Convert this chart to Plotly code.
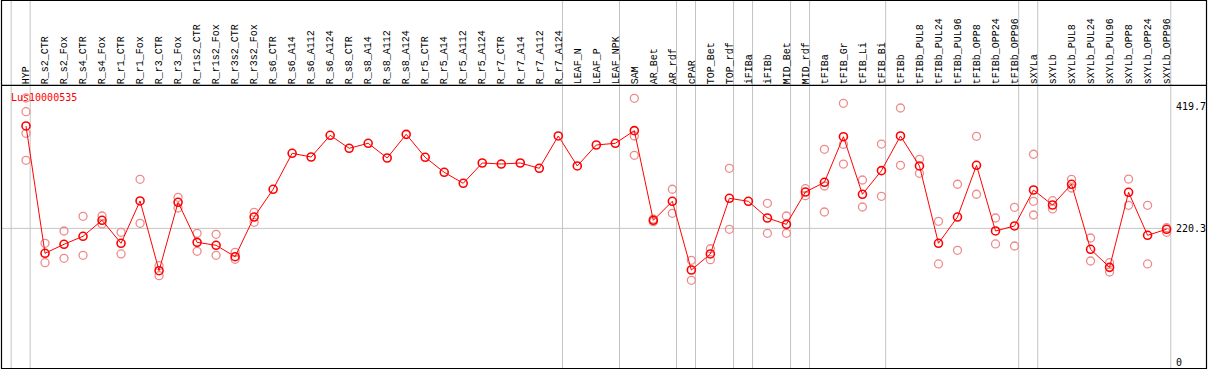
import plotly.graph_objects as go

title_text = "Lus10000535"

categories = [
    "HYP", "R_s2_CTR", "R_s2_Fox", "R_s4_CTR", "R_s4_Fox", "R_r1_CTR", "R_r1_Fox",
    "R_r3_CTR", "R_r3_Fox", "R_r1s2_CTR", "R_r1s2_Fox", "R_r3s2_CTR", "R_r3s2_Fox",
    "R_s6_CTR", "R_s6_A14", "R_s6_A112", "R_s6_A124", "R_s8_CTR", "R_s8_A14",
    "R_s8_A112", "R_s8_A124", "R_r5_CTR", "R_r5_A14", "R_r5_A112", "R_r5_A124",
    "R_r7_CTR", "R_r7_A14", "R_r7_A112", "R_r7_A124", "LEAF_N", "LEAF_P", "LEAF_NPK",
    "SAM", "AR_Bet", "AR_rdf", "cPAR", "TOP_Bet", "TOP_rdf", "iFIBa", "iFIBb",
    "MID_Bet", "MID_rdf", "tFIBa", "tFIB_Gr", "tFIB_Li", "tFIB_Bi", "tFIBb",
    "tFIBb_PUL8", "tFIBb_PUL24", "tFIBb_PUL96", "tFIBb_OPP8", "tFIBb_OPP24", "tFIBb_OPP96",
    "sXYLa", "sXYLb", "sXYLb_PUL8", "sXYLb_PUL24", "sXYLb_PUL96", "sXYLb_OPP8",
    "sXYLb_OPP24", "sXYLb_OPP96",
]

mean_values = [
    388.2, 179.4, 194.2, 207.3, 233.5, 195.8, 265.2, 150.9, 263.0, 197.4, 192.5, 173.8, 238.9,
    284.4, 343.4, 337.3, 372.9, 351.6, 359.8, 335.7, 374.5, 336.8, 312.2, 294.2, 327.5,
    325.8, 327.5, 318.8, 371.8, 322.6, 357.0, 359.8,
    380.5, 233.5, 264.7, 152.0, 178.3, 269.6, 264.7, 237.3, 226.9, 279.9,
    295.8, 370.6, 276.2, 314.9, 371.8, 322.6, 195.8, 238.9, 323.7, 216.0, 224.2,
    283.2, 258.6, 292.6, 186.0, 156.4, 279.4, 208.9, 218.8,
]

N = None
rep_a = [
    434.1, 195.8, 216.0, 240.1, 240.6, 213.8, 300.7, 159.1, 271.2, 212.2, 210.6, 181.0, 246.6,
    N, N, N, N, N, N, N, N, N, N, N, N, N, N, N, N, N, N, N,
    433.6, 235.5, 284.4, 167.9, 186.9, 318.8, N, 261.4, 240.6, 285.3,
    349.9, 425.4, 299.6, 358.6, 417.7, 333.5, 231.9, 292.6, 371.3, 237.3, 254.8,
    341.8, 265.7, 300.7, 204.5, 164.0, 301.2, 258.1, 221.4,
]
rep_b = [
    411.6, 164.0, 171.2, 176.1, 227.5, 178.3, 228.6, 142.7, 253.7, 182.7, 176.1, 169.6, 230.2,
    N, N, N, N, N, N, N, N, N, N, N, N, N, N, N, N, N, N, N,
    371.8, 231.2, 245.0, 135.1, 168.9, 218.8, N, 212.2, 212.2, 273.9,
    289.8, 358.2, 255.3, 272.9, 323.7, 310.6, 161.9, 184.3, 276.2, 194.7, 191.4,
    264.7, 252.1, 286.5, 166.8, 148.7, 258.1, 161.9, 213.8,
]
rep_c = [None] * len(categories)
rep_c[0] = 376.2
rep_c[32] = 340.1
rep_c[42] = 247.1
rep_c[43] = 325.8
rep_c[53] = 242.2
rep_d = [None] * len(categories)
rep_d[0] = 331.9

y_ticks = [0, 220.3, 419.7]
y_tick_text = ["0", "220.3", "419.7"]
group_breaks = [-1, 0, 28, 31, 34, 35, 37, 38, 40, 41, 45, 52, 53, 60]

W, H = 1209, 370
FONT = "DejaVu Sans Mono"
LABEL_FONT = "Liberation Mono"

# replicate points
rx, ry = [], []
for rep in (rep_a, rep_b, rep_c, rep_d):
    for c, v in zip(categories, rep):
        if v is not None:
            rx.append(c)
            ry.append(v)

fig = go.Figure()
fig.add_trace(go.Scatter(
    x=rx, y=ry, mode="markers",
    marker=dict(symbol="circle-open", size=8, color="#ee8a8a", line=dict(width=1.3, color="#ee8a8a")),
    showlegend=False, hoverinfo="skip",
))
fig.add_trace(go.Scatter(
    x=categories, y=mean_values, mode="lines+markers",
    line=dict(color="#ff0000", width=1),
    marker=dict(symbol="circle-open", size=8, color="#ff0000", line=dict(width=1.6, color="#ff0000")),
    showlegend=False,
))

def py(p):  # pixel row -> paper
    return 1 - p / H

def px(p):
    return p / W

top_px = 85.3
x0_px = 26.0
step = 19.01
x_lo = -x0_px / step
x_hi = (W - x0_px) / step
v_top = (362.7 - top_px) / 0.6098
v_bot = (362.7 - H) / 0.6098

shapes = []
for b in group_breaks:
    shapes.append(dict(type="line", xref="x", yref="paper", x0=b + 0.22, x1=b + 0.22,
                       y0=py(369), y1=1, line=dict(color="#c4c4c4", width=1), layer="below"))
shapes.append(dict(type="line", xref="paper", yref="y", x0=px(2), x1=px(1170), y0=220.3, y1=220.3,
                   line=dict(color="#c4c4c4", width=1), layer="below"))
# frame
shapes.append(dict(type="rect", xref="paper", yref="paper", x0=px(1.5), x1=px(1206.5),
                   y0=py(368.5), y1=py(0.5), line=dict(color="black", width=1.2), layer="above"))
shapes.append(dict(type="line", xref="paper", yref="paper", x0=px(1.5), x1=px(1206.5),
                   y0=py(85.3), y1=py(85.3), line=dict(color="black", width=1.2), layer="above"))

fig.update_layout(
    width=W, height=H,
    margin=dict(l=0, r=0, t=0, b=0),
    paper_bgcolor="white", plot_bgcolor="rgba(0,0,0,0)",
    showlegend=False,
    shapes=shapes,
    xaxis=dict(type="category", categoryorder="array", categoryarray=categories,
               range=[x_lo, x_hi], domain=[0, 1], side="top", tickangle=-90,
               tickfont=dict(family=LABEL_FONT, size=10, color="black"),
               showgrid=False, zeroline=False, showline=False, ticks=""),
    yaxis=dict(range=[v_bot, v_top], domain=[0, py(top_px)], side="right",
               anchor="free", position=px(1175),
               tickvals=y_ticks, ticktext=y_tick_text, ticks="",
               tickfont=dict(family=FONT, size=10, color="black"),
               showgrid=False, zeroline=False, showline=False),
    annotations=[dict(text=title_text, xref="paper", yref="paper", x=px(9), y=py(97),
                      xanchor="left", yanchor="middle", showarrow=False,
                      font=dict(family=FONT, size=10, color="#ff0000"))],
)

fig.write_html(
    "out.html",
    config={"displayModeBar": False},
    post_script="document.body.style.margin='0';document.body.style.overflow='hidden';",
)
